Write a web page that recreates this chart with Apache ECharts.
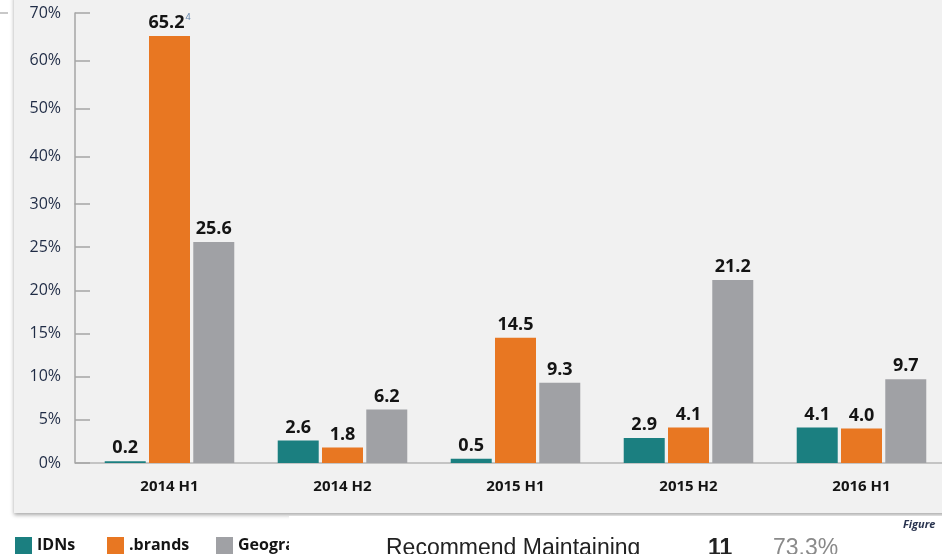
<!DOCTYPE html>
<html>
<head>
<meta charset="utf-8">
<script src="https://cdn.jsdelivr.net/npm/echarts@6/dist/echarts.min.js"></script>
<style>
  html, body { margin: 0; padding: 0; background: #fff; overflow: hidden; }
  #chart { width: 950px; height: 554px; }
</style>
</head>
<body>
<div id="chart"></div>
<script>
// data
var categories = ['2014 H1', '2014 H2', '2015 H1', '2015 H2', '2016 H1'];
var idns = [0.2, 2.6, 0.5, 2.9, 4.1];
var brands = [65.2, 1.8, 14.5, 4.1, 4.0];
var geo = [25.6, 6.2, 9.3, 21.2, 9.7];
var brandNotes = ['4', '', '', '', ''];
var lowTicks = [0, 5, 10, 15, 20, 25, 30];   // lower part of the broken axis
var highTicks = [30, 40, 50, 60, 70];        // upper part
var BREAK = 30;

window.onload = function () {
	drawChart();
};

function drawChart() {
	var chart = echarts.init(document.getElementById('chart'));

	var cols = { idns: '#1b7f80', brands: '#e87722', geo: '#a0a1a5' };
	var font = "'Open Sans', sans-serif";
	var dark = '#141414';

	function lowPart(arr) {
		return arr.map(function (v) { return Math.min(v, BREAK); });
	}
	function highPart(arr) {
		return arr.map(function (v) { return v > BREAK ? v : '-'; });
	}
	function valLabel(arr, notes) {
		return {
			show: true,
			position: 'top',
			distance: 4,
			formatter: function (p) {
				var v = arr[p.dataIndex];
				if (v > BREAK && p.seriesIndex < 3) return '';
				var s = '{v|' + v.toFixed(1) + '}';
				if (notes && notes[p.dataIndex]) s += '{sup|' + notes[p.dataIndex] + '}';
				return s;
			},
			rich: {
				v: { fontFamily: font, fontWeight: 'bold', fontSize: 18, color: dark },
				sup: { fontFamily: font, fontSize: 9, color: '#5b7fa8', verticalAlign: 'top', padding: [0, 0, 10, 1] }
			}
		};
	}

	function bar(name, color, data, arr, grid, notes) {
		return {
			name: name,
			type: 'bar',
			xAxisIndex: grid,
			yAxisIndex: grid,
			data: data,
			barWidth: 41,
			barGap: '8%',
			itemStyle: { color: color },
			label: valLabel(arr, notes),
			emphasis: { disabled: true }
		};
	}

	var yLabel = { fontFamily: font, fontSize: 16, color: '#1f2b45', margin: 14, formatter: '{value}%' };
	var legendText = { fontFamily: font, fontWeight: 'bold', fontSize: 16, color: dark };
	var legendBase = { top: 537, padding: 0, itemWidth: 17, itemHeight: 17, itemGap: 6, icon: 'rect', selectedMode: false, textStyle: legendText };

	var option = {
		animation: false,
		backgroundColor: '#fff',
		graphic: [
			{ type: 'rect', z: -10, shape: { x: 14, y: -5, width: 940, height: 518 },
			  style: { fill: '#f1f1f1', shadowBlur: 4, shadowOffsetY: 2, shadowColor: 'rgba(0,0,0,0.35)' } },
			{ type: 'rect', z: -9, shape: { x: 0, y: 12, width: 8, height: 2 }, style: { fill: '#c8c8c8' } },
			{ type: 'rect', z: -9, shape: { x: 75, y: 462, width: 9, height: 2 }, style: { fill: '#c4c4c4' } },
			{ type: 'rect', z: 100, shape: { x: 289, y: 516, width: 670, height: 40 }, style: { fill: '#fff' } },
			{ type: 'text', z: 101, left: 903, top: 519,
			  style: { text: 'Figure', fontFamily: font, fontStyle: 'italic', fontWeight: 'bold', fontSize: 11, fill: '#2a3550' } },
			{ type: 'text', z: 101, left: 386, top: 537,
			  style: { text: 'Recommend Maintaining', fontFamily: "'Liberation Sans', Arial, sans-serif", fontSize: 23, fill: '#222' } },
			{ type: 'text', z: 101, left: 708, top: 537,
			  style: { text: '11', fontFamily: "'Liberation Sans', Arial, sans-serif", fontWeight: 'bold', fontSize: 23, fill: '#222' } },
			{ type: 'text', z: 101, left: 773, top: 537,
			  style: { text: '73.3%', fontFamily: "'Liberation Sans', Arial, sans-serif", fontSize: 23, fill: '#8a8a8a' } }
		],
		legend: [
			Object.assign({ data: ['IDNs'], left: 15 }, legendBase),
			Object.assign({ data: ['.brands'], left: 107 }, legendBase),
			Object.assign({ data: ['Geographic'], left: 216 }, legendBase)
		],
		grid: [
			{ left: 83, width: 865, top: 13, bottom: 350 },
			{ left: 83, width: 865, top: 204, bottom: 91 }
		],
		xAxis: [
			{ gridIndex: 0, type: 'category', data: categories, show: false },
			{
				gridIndex: 1, type: 'category', data: categories,
				axisLine: { lineStyle: { color: '#c4c4c4', width: 2 } },
				axisTick: { inside: true, length: 6, lineStyle: { color: '#b8b8b8', width: 2 } },
				axisLabel: { fontFamily: font, fontWeight: 'bold', fontSize: 15, color: dark, margin: 16 }
			}
		],
		yAxis: [
			{
				gridIndex: 0, type: 'value', min: highTicks[0], max: highTicks[highTicks.length - 1], interval: 10,
				offset: 8,
				axisLine: { show: true, lineStyle: { color: '#a5a5a5', width: 1.5 } },
				axisTick: { show: true, inside: true, length: 15, lineStyle: { color: '#a5a5a5', width: 1.5 } },
				axisLabel: Object.assign({ showMinLabel: false }, yLabel),
				splitLine: { show: false }
			},
			{
				gridIndex: 1, type: 'value', min: lowTicks[0], max: lowTicks[lowTicks.length - 1], interval: 5,
				offset: 8,
				axisLine: { show: true, lineStyle: { color: '#a5a5a5', width: 1.5 } },
				axisTick: { show: true, inside: true, length: 15, lineStyle: { color: '#a5a5a5', width: 1.5 } },
				axisLabel: yLabel,
				splitLine: { show: false }
			}
		],
		series: [
			bar('IDNs', cols.idns, lowPart(idns), idns, 1),
			bar('.brands', cols.brands, lowPart(brands), brands, 1),
			bar('Geographic', cols.geo, lowPart(geo), geo, 1),
			bar('IDNs', cols.idns, highPart(idns), idns, 0),
			bar('.brands', cols.brands, highPart(brands), brands, 0, brandNotes),
			bar('Geographic', cols.geo, highPart(geo), geo, 0)
		]
	};

	chart.setOption(option);
}
</script>
</body>
</html>
